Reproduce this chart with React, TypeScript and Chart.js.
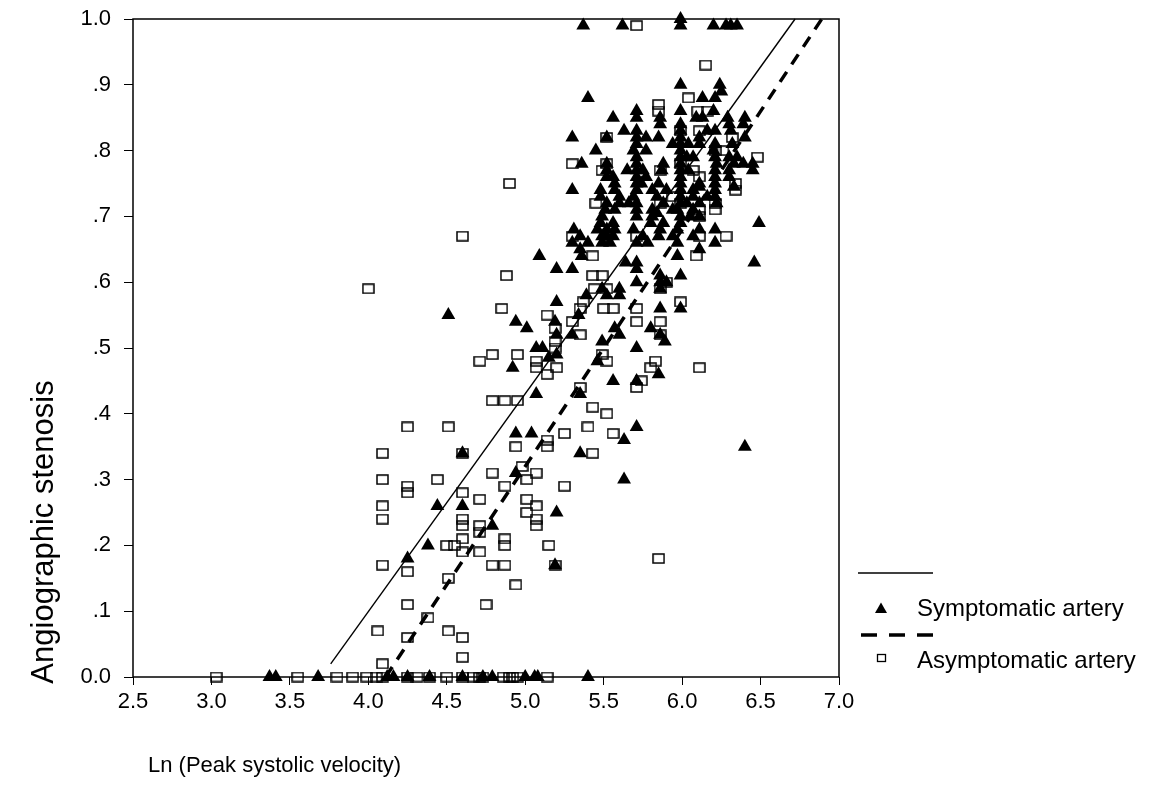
import React, { useEffect, useRef } from 'react';
import { Chart, registerables } from 'chart.js';

Chart.register(...registerables);

const xTickLabels = ['2.5', '3.0', '3.5', '4.0', '4.5', '5.0', '5.5', '6.0', '6.5', '7.0'];
const yTickLabels = ['0.0', '.1', '.2', '.3', '.4', '.5', '.6', '.7', '.8', '.9', '1.0'];
const xTitle = 'Ln (Peak systolic velocity)';
const yTitle = 'Angiographic stenosis';
const legendLabels = ['Symptomatic artery', 'Asymptomatic artery'];

const symptomatic: [number, number][] = [
  [5.37, 0.99], [5.62, 0.99], [5.99, 1.0], [5.99, 0.99], [6.2, 0.99], [6.28, 0.99], [6.31, 0.99], [6.35, 0.99],
  [5.99, 0.9], [6.24, 0.9], [6.25, 0.89], [5.4, 0.88], [6.13, 0.88], [6.21, 0.88],
  [5.71, 0.86], [5.86, 0.85], [5.99, 0.86], [6.13, 0.85], [6.2, 0.86], [6.29, 0.85], [6.4, 0.85], [5.56, 0.85],
  [5.71, 0.85], [6.09, 0.85], [6.3, 0.84], [6.39, 0.84], [5.86, 0.84], [5.99, 0.84], [6.16, 0.83], [6.21, 0.83],
  [6.31, 0.83], [5.63, 0.83], [5.71, 0.83], [5.99, 0.83],
  [5.3, 0.82], [5.52, 0.82], [5.71, 0.82], [5.77, 0.82], [5.85, 0.82], [5.94, 0.81], [5.99, 0.82], [6.04, 0.81],
  [6.11, 0.82], [6.21, 0.81], [6.32, 0.81], [6.4, 0.82], [5.71, 0.81],
  [5.99, 0.81], [6.11, 0.81], [6.2, 0.8], [6.35, 0.79], [5.45, 0.8], [5.69, 0.8], [5.77, 0.8], [5.99, 0.8],
  [6.07, 0.79], [6.21, 0.79], [6.3, 0.79], [5.71, 0.79], [5.99, 0.79], [6.03, 0.79],
  [5.36, 0.78], [5.52, 0.78], [5.71, 0.78], [5.88, 0.78], [5.99, 0.78], [6.22, 0.78], [6.33, 0.78], [6.45, 0.78], [6.39, 0.78],
  [5.52, 0.77], [5.65, 0.77], [5.75, 0.77], [5.87, 0.77], [5.99, 0.77], [6.04, 0.77], [6.21, 0.77], [6.3, 0.77], [6.45, 0.77], [5.71, 0.77],
  [5.52, 0.76], [5.56, 0.76], [5.71, 0.76], [5.77, 0.76], [5.99, 0.76], [6.21, 0.76], [6.3, 0.76], [6.11, 0.75],
  [5.57, 0.75], [5.74, 0.75], [5.85, 0.75], [5.99, 0.75], [6.11, 0.745], [6.21, 0.75], [6.33, 0.745], [5.71, 0.75],
  [5.3, 0.74], [5.48, 0.74], [5.57, 0.74], [5.71, 0.74], [5.81, 0.74], [5.9, 0.74], [5.99, 0.74], [6.07, 0.74], [6.21, 0.74],
  [5.48, 0.73], [5.6, 0.73], [5.69, 0.73], [5.84, 0.73], [5.99, 0.73], [6.07, 0.73], [6.16, 0.73], [6.21, 0.73],
  [5.52, 0.72], [5.6, 0.72], [5.66, 0.72], [5.71, 0.72], [5.88, 0.72], [5.99, 0.72], [6.03, 0.72], [6.11, 0.72], [6.22, 0.72],
  [5.51, 0.71], [5.57, 0.71], [5.71, 0.71], [5.81, 0.71], [5.94, 0.71], [5.97, 0.71], [6.07, 0.71],
  [5.49, 0.7], [5.71, 0.7], [5.81, 0.7], [5.84, 0.705], [5.99, 0.7], [6.05, 0.7], [6.11, 0.7],
  [5.48, 0.69], [5.56, 0.69], [5.8, 0.69], [6.49, 0.69], [5.88, 0.69], [5.99, 0.69],
  [5.31, 0.68], [5.46, 0.68], [5.52, 0.68], [5.57, 0.68], [5.69, 0.68], [5.86, 0.68], [5.97, 0.68], [6.11, 0.68], [6.21, 0.68],
  [5.35, 0.67], [5.49, 0.67], [5.52, 0.67], [5.56, 0.67], [5.75, 0.67], [5.85, 0.67], [5.94, 0.67], [6.07, 0.67],
  [5.3, 0.66], [5.4, 0.66], [5.49, 0.66], [5.54, 0.66], [5.71, 0.66], [5.78, 0.66], [5.97, 0.66], [6.21, 0.66],
  [5.35, 0.65], [6.11, 0.65], [5.09, 0.64], [5.36, 0.64], [5.97, 0.64],
  [5.64, 0.63], [5.71, 0.63], [6.46, 0.63], [5.2, 0.62], [5.3, 0.62], [5.71, 0.62],
  [5.86, 0.61], [5.99, 0.61], [5.71, 0.6], [5.86, 0.6], [5.9, 0.6],
  [5.49, 0.59], [5.6, 0.59], [5.86, 0.59], [5.39, 0.58], [5.52, 0.58], [5.6, 0.58], [5.2, 0.57],
  [5.86, 0.56], [5.99, 0.56], [4.51, 0.55], [5.34, 0.55], [4.94, 0.54], [5.19, 0.54],
  [5.01, 0.53], [5.57, 0.53], [5.8, 0.53], [5.2, 0.52], [5.3, 0.52], [5.6, 0.52], [5.86, 0.52],
  [5.49, 0.51], [5.89, 0.51], [5.07, 0.5], [5.11, 0.5], [5.71, 0.5], [5.2, 0.49], [5.15, 0.485],
  [5.46, 0.48], [4.92, 0.47], [5.85, 0.46], [5.56, 0.45], [5.71, 0.45], [5.07, 0.43], [5.35, 0.43],
  [5.71, 0.38], [4.94, 0.37], [5.04, 0.37], [5.63, 0.36], [6.4, 0.35], [5.35, 0.34], [4.6, 0.34],
  [4.94, 0.31], [5.63, 0.3], [4.44, 0.26], [4.6, 0.26], [5.2, 0.25], [4.79, 0.23], [4.38, 0.2],
  [4.25, 0.18], [5.19, 0.17],
  [3.37, 0], [3.41, 0], [3.68, 0], [4.12, 0], [4.16, 0], [4.25, 0], [4.39, 0], [4.6, 0], [4.73, 0],
  [4.79, 0], [5.0, 0], [5.06, 0], [5.08, 0], [5.4, 0],
];

const asymptomatic: [number, number][] = [
  [5.71, 0.99], [6.15, 0.93], [6.04, 0.88], [5.85, 0.87], [5.85, 0.86], [6.1, 0.86], [6.16, 0.86], [5.99, 0.83],
  [6.11, 0.83], [5.52, 0.82], [6.32, 0.82], [6.21, 0.8], [6.26, 0.8], [6.48, 0.79], [5.3, 0.78], [5.52, 0.78],
  [5.99, 0.78], [5.49, 0.77], [5.86, 0.77], [6.07, 0.77], [6.11, 0.76], [6.34, 0.75], [6.34, 0.74], [4.9, 0.75],
  [5.45, 0.72], [5.86, 0.72], [5.94, 0.73], [5.99, 0.72], [6.21, 0.72], [6.21, 0.71], [6.11, 0.71], [6.11, 0.7],
  [4.6, 0.67], [5.3, 0.67], [5.52, 0.67], [5.71, 0.67], [6.11, 0.67], [6.28, 0.67],
  [5.43, 0.64], [6.09, 0.64], [4.88, 0.61], [5.43, 0.61], [5.49, 0.61], [5.44, 0.59], [5.52, 0.59], [5.86, 0.59],
  [5.9, 0.6], [4.0, 0.59], [4.85, 0.56], [5.14, 0.55], [5.37, 0.57], [5.35, 0.56], [5.5, 0.56], [5.56, 0.56],
  [5.71, 0.56], [5.99, 0.57], [5.19, 0.53], [5.3, 0.54], [5.71, 0.54], [5.86, 0.54], [5.19, 0.51], [5.19, 0.5],
  [5.35, 0.52], [5.86, 0.52], [4.79, 0.49], [4.71, 0.48], [4.95, 0.49], [5.07, 0.48], [5.07, 0.47], [5.2, 0.47],
  [5.14, 0.46], [5.49, 0.49], [5.52, 0.48], [5.83, 0.48], [5.8, 0.47], [6.11, 0.47], [5.74, 0.45], [5.71, 0.44],
  [5.35, 0.44], [4.79, 0.42], [4.87, 0.42], [4.95, 0.42], [5.43, 0.41], [5.52, 0.4], [4.25, 0.38], [4.51, 0.38],
  [5.25, 0.37], [5.4, 0.38], [5.56, 0.37], [5.14, 0.36], [5.14, 0.35], [4.94, 0.35], [5.43, 0.34], [4.09, 0.34], [4.6, 0.34],
  [4.09, 0.3], [4.25, 0.29], [4.25, 0.28], [4.44, 0.3], [4.79, 0.31], [4.87, 0.29], [4.98, 0.32], [5.01, 0.3],
  [5.07, 0.31], [5.25, 0.29], [4.6, 0.28], [4.71, 0.27], [5.01, 0.27], [5.07, 0.26], [5.01, 0.25], [5.07, 0.24],
  [5.07, 0.23], [4.09, 0.26], [4.09, 0.24], [4.6, 0.24], [4.6, 0.23], [4.71, 0.23], [4.71, 0.22], [4.5, 0.2],
  [4.55, 0.2], [4.6, 0.21], [4.6, 0.19], [4.71, 0.19], [4.87, 0.21], [4.87, 0.2], [5.15, 0.2], [4.79, 0.17],
  [4.87, 0.17], [5.19, 0.17], [4.94, 0.14], [4.75, 0.11], [5.85, 0.18], [4.09, 0.17], [4.06, 0.07], [4.09, 0.02],
  [4.25, 0.16], [4.25, 0.11], [4.25, 0.06], [4.38, 0.09], [4.51, 0.15], [4.51, 0.07], [4.6, 0.06], [4.6, 0.03],
  [3.03, 0], [3.55, 0], [3.8, 0], [3.9, 0], [3.99, 0], [4.05, 0], [4.09, 0], [4.25, 0], [4.31, 0], [4.39, 0],
  [4.5, 0], [4.6, 0], [4.67, 0], [4.71, 0], [4.73, 0], [4.86, 0], [4.9, 0], [4.92, 0], [4.95, 0], [5.14, 0],
];

const symptomaticFitX = [3.76, 6.72];
const symptomaticFitY = [0.02, 1.0];
const asymptomaticFitX = [4.11, 6.89];
const asymptomaticFitY = [0.0, 1.0];

const FONT = '"Liberation Sans", Arial, sans-serif';

function makeSquare(w: number, h: number, lw: number): HTMLCanvasElement {
  const c = document.createElement('canvas');
  c.width = w;
  c.height = h;
  const g = c.getContext('2d')!;
  g.strokeStyle = '#000';
  g.lineWidth = lw;
  g.strokeRect(lw / 2 + 0.25, lw / 2 + 0.25, w - lw - 0.5, h - lw - 0.5);
  return c;
}

const decorPlugin = {
  id: 'decor',
  afterDraw(chart: any) {
    const { ctx, chartArea: a } = chart;
    ctx.save();
    ctx.strokeStyle = '#000';
    ctx.lineWidth = 1.5;
    ctx.setLineDash([]);
    ctx.strokeRect(a.left, a.top, a.right - a.left, a.bottom - a.top);

    ctx.fillStyle = '#000';
    ctx.textBaseline = 'middle';
    ctx.textAlign = 'left';
    ctx.font = `22px ${FONT}`;
    ctx.fillText(xTitle, 148, 766);
    ctx.save();
    ctx.translate(44, 532);
    ctx.rotate(-Math.PI / 2);
    ctx.textAlign = 'center';
    ctx.font = `31px ${FONT}`;
    ctx.fillText(yTitle, 0, 0);
    ctx.restore();

    // legend
    ctx.lineWidth = 1.5;
    ctx.beginPath();
    ctx.moveTo(858, 573);
    ctx.lineTo(933, 573);
    ctx.stroke();
    ctx.beginPath();
    ctx.moveTo(881, 602.5);
    ctx.lineTo(875, 613);
    ctx.lineTo(887, 613);
    ctx.closePath();
    ctx.fill();
    ctx.font = `24px ${FONT}`;
    ctx.fillText(legendLabels[0], 917, 609);
    ctx.lineWidth = 3.5;
    ctx.beginPath();
    [[861, 877], [889, 905], [917, 933]].forEach(([s, e]) => {
      ctx.moveTo(s, 635);
      ctx.lineTo(e, 635);
    });
    ctx.stroke();
    ctx.lineWidth = 1.3;
    ctx.strokeRect(877.5, 654.5, 8, 7);
    ctx.fillText(legendLabels[1], 917, 661);
    ctx.restore();
  },
};

export default function App() {
  const ref = useRef<HTMLCanvasElement | null>(null);
  useEffect(() => {
    if (!ref.current) return;
    const sq = makeSquare(13, 11, 1.5);
    const chart = new Chart(ref.current, {
      type: 'scatter',
      data: {
        datasets: [
          {
            label: 'fitSym',
            data: symptomaticFitX.map((x, i) => ({ x, y: symptomaticFitY[i] })),
            showLine: true,
            borderColor: '#000',
            borderWidth: 1.4,
            pointRadius: 0,
            order: 0,
            clip: false,
          } as any,
          {
            label: 'fitAsym',
            data: asymptomaticFitX.map((x, i) => ({ x, y: asymptomaticFitY[i] })),
            showLine: true,
            borderColor: '#000',
            borderWidth: 3.5,
            borderDash: [12, 9],
            pointRadius: 0,
            order: 0,
            clip: false,
          } as any,
          {
            label: legendLabels[1],
            data: asymptomatic.map(([x, y]) => ({ x, y })),
            pointStyle: sq,
            pointRadius: 6,
            order: 1,
            clip: false,
          } as any,
          {
            label: legendLabels[0],
            data: symptomatic.map(([x, y]) => ({ x, y })),
            pointStyle: 'triangle',
            pointRadius: 8,
            backgroundColor: '#000',
            borderColor: '#000',
            borderWidth: 0,
            order: 2,
            clip: false,
          } as any,
        ],
      },
      options: {
        animation: false,
        responsive: false,
        events: [],
        layout: { padding: { top: 19, right: 312, left: 0, bottom: 0 } },
        plugins: { legend: { display: false }, tooltip: { enabled: false } },
        scales: {
          x: {
            type: 'linear',
            min: 2.5,
            max: 7.0,
            ticks: {
              stepSize: 0.5,
              color: '#000',
              font: { family: FONT, size: 22 },
              padding: 4,
              maxRotation: 0,
              autoSkip: false,
              callback: (_v: any, i: number) => xTickLabels[i],
            },
            grid: { drawOnChartArea: false, drawTicks: true, tickLength: 8, color: '#000', lineWidth: 1 },
            border: { display: false },
            afterFit: (s: any) => {
              s.height = 120;
              s.paddingLeft = 0;
              s.paddingRight = 0;
            },
          },
          y: {
            type: 'linear',
            min: 0,
            max: 1,
            ticks: {
              stepSize: 0.1,
              color: '#000',
              font: { family: FONT, size: 22 },
              padding: 13,
              autoSkip: false,
              callback: (_v: any, i: number) => yTickLabels[i],
            },
            grid: { drawOnChartArea: false, drawTicks: true, tickLength: 9, color: '#000', lineWidth: 1 },
            border: { display: false },
            afterFit: (s: any) => {
              s.width = 133;
              s.paddingTop = 0;
              s.paddingBottom = 0;
            },
          },
        },
      },
      plugins: [decorPlugin],
    } as any);
    return () => chart.destroy();
  }, []);
  return (
    <div style={{ position: 'fixed', left: 0, top: 0, width: 1151, height: 797, background: '#fff' }}>
      <canvas ref={ref} width={1151} height={797} style={{ display: 'block' }} />
    </div>
  );
}
